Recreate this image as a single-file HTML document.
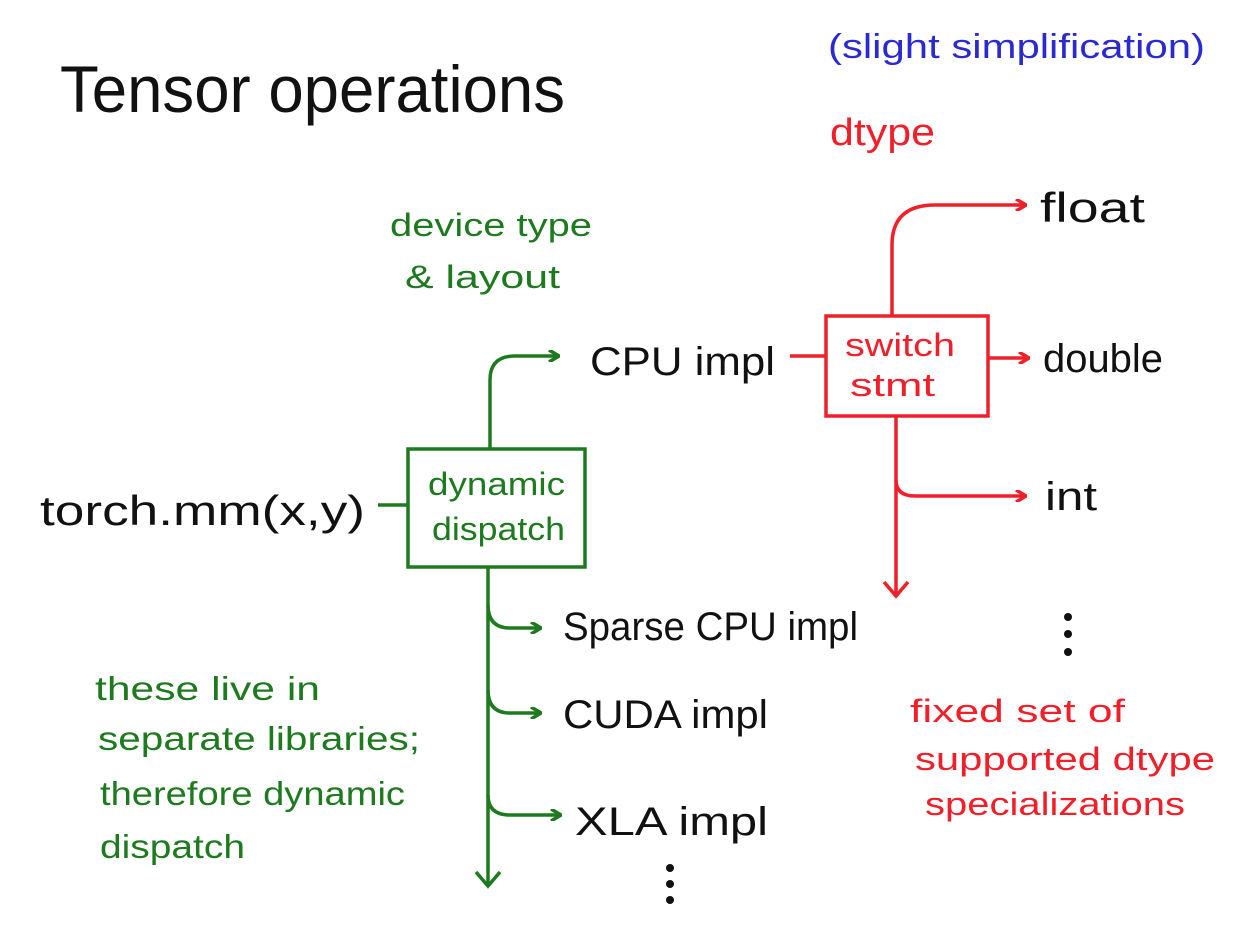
<!DOCTYPE html>
<html><head><meta charset="utf-8"><style>
html,body{margin:0;padding:0;background:#fff;}
svg{display:block;}
text{font-family:"Liberation Sans",sans-serif;}
</style></head><body>
<svg width="1256" height="942" viewBox="0 0 1256 942" xmlns="http://www.w3.org/2000/svg">
<defs>
<marker id="ar" markerWidth="12" markerHeight="12" refX="10" refY="6" orient="auto" markerUnits="userSpaceOnUse"><path d="M1,0 L11,6 L1,12" fill="none" stroke="#f0202a" stroke-width="3.5"/></marker>
<marker id="ag" markerWidth="12" markerHeight="12" refX="10" refY="6" orient="auto" markerUnits="userSpaceOnUse"><path d="M1,0 L11,6 L1,12" fill="none" stroke="#1e7a1e" stroke-width="3.5"/></marker>
<marker id="arB" markerWidth="30" markerHeight="30" refX="15" refY="25" orient="0" markerUnits="userSpaceOnUse"><path d="M3,12 L15,26 L27,12" fill="none" stroke="#f0202a" stroke-width="3.5"/></marker>
<marker id="agB" markerWidth="30" markerHeight="30" refX="15" refY="25" orient="0" markerUnits="userSpaceOnUse"><path d="M3,12 L15,26 L27,12" fill="none" stroke="#1e7a1e" stroke-width="3.5"/></marker>
</defs>

<text x="60" y="112" font-size="66" fill="#111" textLength="505" lengthAdjust="spacingAndGlyphs">Tensor operations</text>
<text x="828" y="58" font-size="34" fill="#2a2ad0" textLength="377" lengthAdjust="spacingAndGlyphs">(slight simplification)</text>
<text x="830" y="145" font-size="38" fill="#f0202a" textLength="105" lengthAdjust="spacingAndGlyphs">dtype</text>
<text x="390" y="236" font-size="32" fill="#1e7a1e" textLength="202" lengthAdjust="spacingAndGlyphs">device type</text>
<text x="405" y="288" font-size="32" fill="#1e7a1e" textLength="155" lengthAdjust="spacingAndGlyphs">&amp; layout</text>

<!-- red parts -->
<path d="M892,315 L892,245 Q892,205 935,205 L1025,205" fill="none" stroke="#f0202a" stroke-width="3.5" marker-end="url(#ar)"/>
<text x="1040" y="222" font-size="42" fill="#111" textLength="105" lengthAdjust="spacingAndGlyphs">float</text>
<line x1="790" y1="356" x2="826" y2="356" stroke="#f0202a" stroke-width="3.5"/>
<rect x="826" y="316" width="162" height="100" fill="none" stroke="#f0202a" stroke-width="3.5"/>
<text x="845" y="356" font-size="32" fill="#f0202a" textLength="110" lengthAdjust="spacingAndGlyphs">switch</text>
<text x="850" y="396" font-size="32" fill="#f0202a" textLength="85" lengthAdjust="spacingAndGlyphs">stmt</text>
<line x1="988" y1="358" x2="1028" y2="358" stroke="#f0202a" stroke-width="3.5" marker-end="url(#ar)"/>
<text x="1043" y="372" font-size="40" fill="#111" textLength="120" lengthAdjust="spacingAndGlyphs">double</text>
<path d="M896,416 L896,595" fill="none" stroke="#f0202a" stroke-width="3.5" marker-end="url(#arB)"/>
<path d="M896,480 Q896,496 915,496 L1025,496" fill="none" stroke="#f0202a" stroke-width="3.5" marker-end="url(#ar)"/>
<text x="1045" y="510" font-size="40" fill="#111" textLength="52" lengthAdjust="spacingAndGlyphs">int</text>
<circle cx="1068" cy="617" r="4" fill="#111"/><circle cx="1068" cy="634" r="4" fill="#111"/><circle cx="1068" cy="652" r="4" fill="#111"/>
<text x="910" y="722" font-size="32" fill="#f0202a" textLength="215" lengthAdjust="spacingAndGlyphs">fixed set of</text>
<text x="915" y="770" font-size="32" fill="#f0202a" textLength="300" lengthAdjust="spacingAndGlyphs">supported dtype</text>
<text x="925" y="815" font-size="32" fill="#f0202a" textLength="260" lengthAdjust="spacingAndGlyphs">specializations</text>

<!-- green parts -->
<text x="40" y="525" font-size="42" fill="#111" textLength="325" lengthAdjust="spacingAndGlyphs">torch.mm(x,y)</text>
<line x1="378" y1="505" x2="408" y2="505" stroke="#1e7a1e" stroke-width="3.5"/>
<rect x="408" y="449" width="177" height="118" fill="none" stroke="#1e7a1e" stroke-width="3.5"/>
<text x="428" y="495" font-size="32" fill="#1e7a1e" textLength="137" lengthAdjust="spacingAndGlyphs">dynamic</text>
<text x="432" y="540" font-size="32" fill="#1e7a1e" textLength="133" lengthAdjust="spacingAndGlyphs">dispatch</text>
<path d="M490,449 L490,380 Q490,356 515,356 L558,356" fill="none" stroke="#1e7a1e" stroke-width="3.5" marker-end="url(#ag)"/>
<text x="590" y="375" font-size="40" fill="#111" textLength="185" lengthAdjust="spacingAndGlyphs">CPU impl</text>
<path d="M488,567 L488,885" fill="none" stroke="#1e7a1e" stroke-width="3.5" marker-end="url(#agB)"/>
<path d="M488,605 Q488,628 510,628 L540,628" fill="none" stroke="#1e7a1e" stroke-width="3.5" marker-end="url(#ag)"/>
<path d="M488,690 Q488,713 510,713 L540,713" fill="none" stroke="#1e7a1e" stroke-width="3.5" marker-end="url(#ag)"/>
<path d="M488,795 Q488,815 510,815 L560,815" fill="none" stroke="#1e7a1e" stroke-width="3.5" marker-end="url(#ag)"/>
<text x="563" y="640" font-size="40" fill="#111" textLength="295" lengthAdjust="spacingAndGlyphs">Sparse CPU impl</text>
<text x="563" y="728" font-size="40" fill="#111" textLength="205" lengthAdjust="spacingAndGlyphs">CUDA impl</text>
<text x="575" y="835" font-size="40" fill="#111" textLength="193" lengthAdjust="spacingAndGlyphs">XLA impl</text>
<circle cx="670" cy="868" r="4" fill="#111"/><circle cx="670" cy="884" r="4" fill="#111"/><circle cx="670" cy="900" r="4" fill="#111"/>
<text x="95" y="700" font-size="33" fill="#1e7a1e" textLength="225" lengthAdjust="spacingAndGlyphs">these live in</text>
<text x="98" y="750" font-size="33" fill="#1e7a1e" textLength="322" lengthAdjust="spacingAndGlyphs">separate libraries;</text>
<text x="100" y="805" font-size="33" fill="#1e7a1e" textLength="305" lengthAdjust="spacingAndGlyphs">therefore dynamic</text>
<text x="100" y="858" font-size="33" fill="#1e7a1e" textLength="145" lengthAdjust="spacingAndGlyphs">dispatch</text>
</svg>
</body></html>
